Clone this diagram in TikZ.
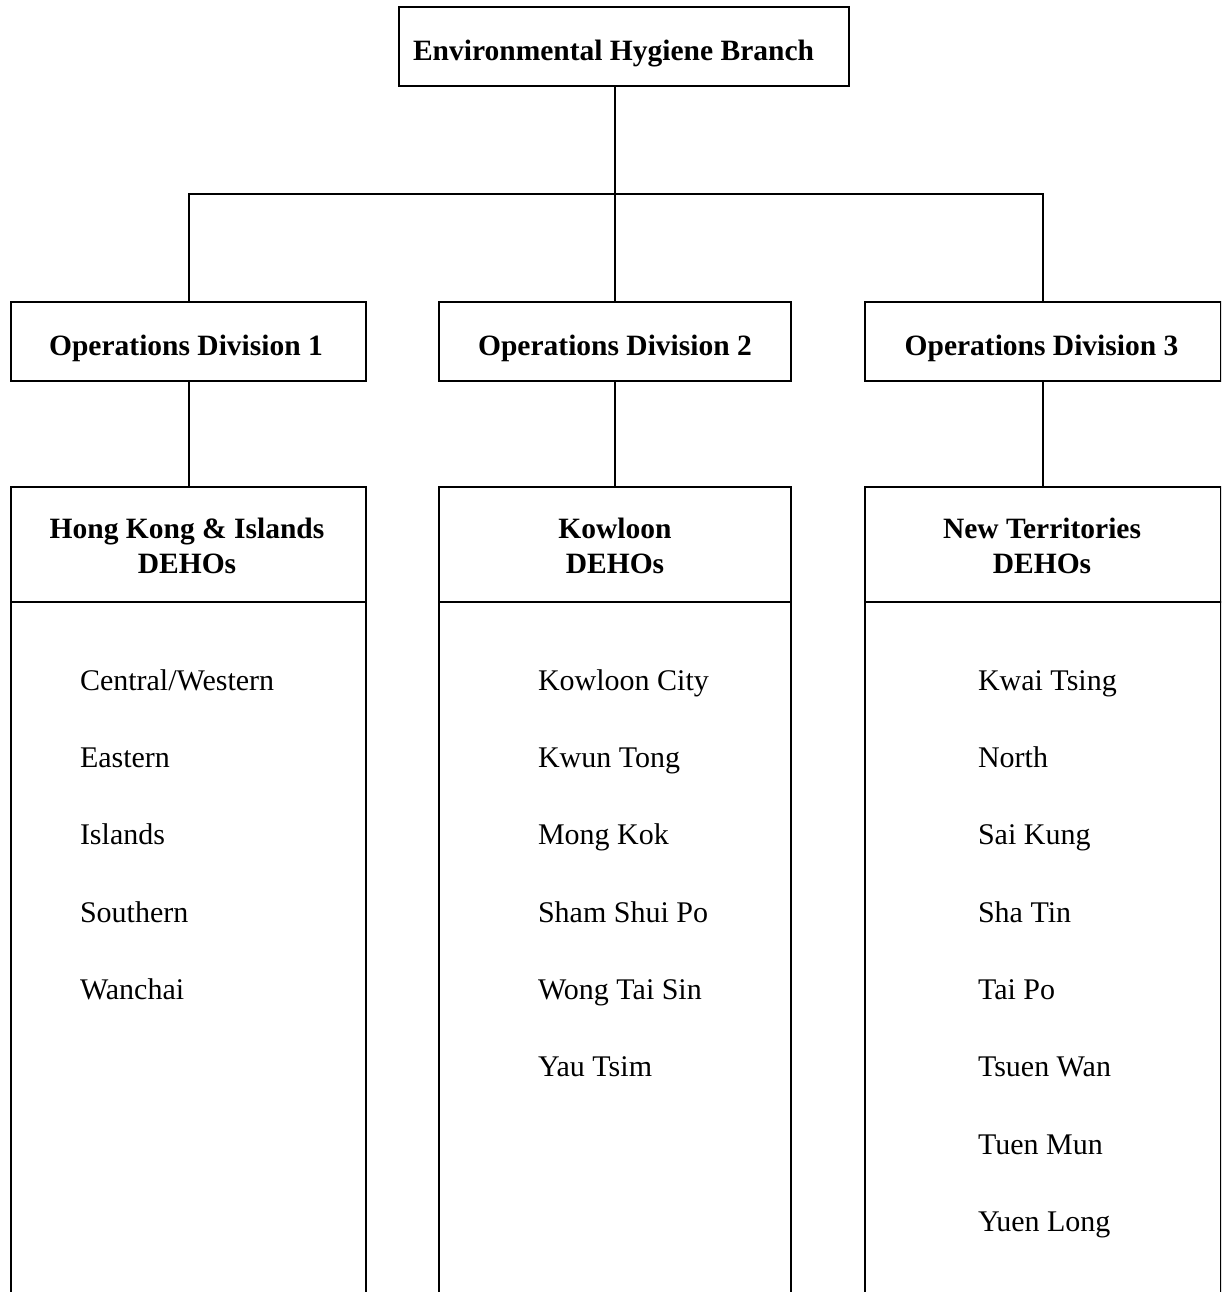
\documentclass[tikz,border=0pt]{standalone}
\usepackage{fontspec}
\setmainfont{Liberation Serif}
\begin{document}
\begin{tikzpicture}[x=1pt,y=-1pt,line width=2pt,
  box/.style={draw,line width=2pt,inner sep=0pt},
  btext/.style={anchor=base,inner sep=0pt,font=\fontsize{29.5}{35}\selectfont\bfseries},
  item/.style={anchor=base west,inner sep=0pt,font=\fontsize{30}{36}\selectfont}]
\useasboundingbox (0,0) rectangle (1221,1292);
\clip (0,0) rectangle (1221,1292);
% top
\node[box,minimum width=450,minimum height=79] (top) at (624,46.5) {};
\node[btext] (topt) at (613.5,61) {Environmental Hygiene Branch};
% divisions
\node[box,minimum width=355,minimum height=79] (d1) at (188.5,341) {};
\node[box,minimum width=352,minimum height=79] (d2) at (615,341) {};
\node[box,minimum width=356,minimum height=79] (d3) at (1043,341) {};
\node[btext] (d1t) at (186,355) {Operations Division 1};
\node[btext] (d2t) at (615,355) {Operations Division 2};
\node[btext] (d3t) at (1041.5,355) {Operations Division 3};
% headers
\node[box,minimum width=355,minimum height=115] (h1) at (188.5,544.5) {};
\node[box,minimum width=352,minimum height=115] (h2) at (615,544.5) {};
\node[box,minimum width=356,minimum height=115] (h3) at (1043,544.5) {};
\node[btext] (h1a) at (187,538) {Hong Kong \& Islands};
\node[btext] (h1b) at (187,573) {DEHOs};
\node[btext] (h2a) at (615,538) {Kowloon};
\node[btext] (h2b) at (615,573) {DEHOs};
\node[btext] (h3a) at (1042,538) {New Territories};
\node[btext] (h3b) at (1042,573) {DEHOs};
% lists
\node[box,minimum width=355,minimum height=718] (l1) at (188.5,961) {};
\node[box,minimum width=352,minimum height=718] (l2) at (615,961) {};
\node[box,minimum width=356,minimum height=718] (l3) at (1043,961) {};
% connectors
\coordinate (j) at (615,194);
\coordinate (tb) at (615,86);
\draw (tb) -- (d2.north);
\draw (d1.north) |- (j) -| (d3.north);
\draw (d1) -- (h1);
\draw (d2) -- (h2);
\draw (d3) -- (h3);
% items column 1
\node[item] (a1) at (79,690.5) {Central/Western};
\node[item] (a2) at (79,767.5) {Eastern};
\node[item] (a3) at (79,844.5) {Islands};
\node[item] (a4) at (79,922.5) {Southern};
\node[item] (a5) at (79,999.5) {Wanchai};
% items column 2
\node[item] (b1) at (537,690.5) {Kowloon City};
\node[item] (b2) at (537,767.5) {Kwun Tong};
\node[item] (b3) at (537,844.5) {Mong Kok};
\node[item] (b4) at (537,922.5) {Sham Shui Po};
\node[item] (b5) at (537,999.5) {Wong Tai Sin};
\node[item] (b6) at (537,1076.5) {Yau Tsim};
% items column 3
\node[item] (c1) at (977,690.5) {Kwai Tsing};
\node[item] (c2) at (977,767.5) {North};
\node[item] (c3) at (977,844.5) {Sai Kung};
\node[item] (c4) at (977,922.5) {Sha Tin};
\node[item] (c5) at (977,999.5) {Tai Po};
\node[item] (c6) at (977,1076.5) {Tsuen Wan};
\node[item] (c7) at (977,1154.5) {Tuen Mun};
\node[item] (c8) at (977,1231.5) {Yuen Long};
\end{tikzpicture}
\end{document}
